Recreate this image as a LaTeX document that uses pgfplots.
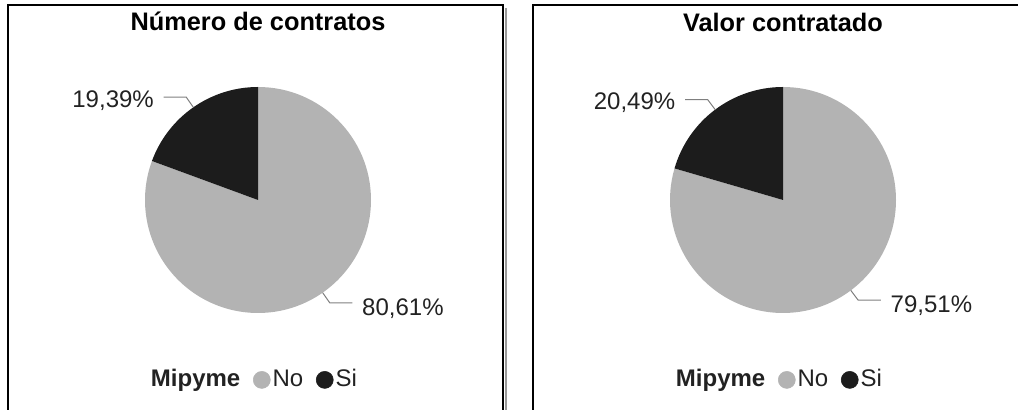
\documentclass[border=0pt]{standalone}
\usepackage{pgfplots}
\pgfplotsset{compat=1.18}
\usepackage{pgfplotstable}
\usepackage{fontspec}
\setmainfont{Liberation Sans}
\definecolor{pieGray}{HTML}{B3B3B3}
\definecolor{pieDark}{HTML}{1C1C1C}
\definecolor{leadGray}{HTML}{7F7F7F}
\definecolor{txt}{HTML}{222222}

\pgfplotstableread{
cat value
No 80.61
Si 19.39
}\contratos
\pgfplotstableread{
cat value
No 79.51
Si 20.49
}\valor

\pgfplotstablegetelem{0}{value}\of\contratos \let\noA\pgfplotsretval
\pgfplotstablegetelem{1}{value}\of\contratos \let\siA\pgfplotsretval
\pgfplotstablegetelem{0}{value}\of\valor \let\noB\pgfplotsretval
\pgfplotstablegetelem{1}{value}\of\valor \let\siB\pgfplotsretval

\pgfmathsetmacro\dNoA{-3.6*\noA}
\pgfmathsetmacro\dSiA{3.6*\siA}
\pgfmathsetmacro\mNoA{90-1.8*\noA}
\pgfmathsetmacro\mSiA{90+1.8*\siA}
\pgfmathsetmacro\dNoB{-3.6*\noB}
\pgfmathsetmacro\dSiB{3.6*\siB}
\pgfmathsetmacro\mNoB{90-1.8*\noB}
\pgfmathsetmacro\mSiB{90+1.8*\siB}

\def\R{84.75pt}
\def\pct#1{\pgfmathprintnumber[assume math mode=true,fixed,fixed zerofill,precision=2,use comma]{#1}\%}

\pgfplotsset{
  pieaxis/.style={
    anchor=center, hide axis, x=\R, y=\R,
    xmin=-1, xmax=1, ymin=-1, ymax=1, clip=false,
    legend columns=-1,
    legend style={draw=none, fill=none, at={(0.482,-0.296)}, anchor=center,
      inner sep=0pt,
      nodes={inner sep=1.5pt, text=txt},
      /tikz/every even column/.append style={column sep=8pt}},
    legend image code/.code={\fill[##1] (0pt,0pt) circle (6.4pt);},
  },
}

\begin{document}
\fontsize{18pt}{21pt}\selectfont
\begin{tikzpicture}
\useasboundingbox (0,0) rectangle (763.5pt,307.5pt);
\clip (0,0) rectangle (763.5pt,307.5pt);
\begin{scope}[x=0.75pt, y=-0.75pt, shift={(0,307.5pt)}]
  \draw[line width=1.5pt] (8,430) -- (8,5.5) -- (503,5.5) -- (503,430);
  \draw[line width=1.5pt, black!40] (505.5,8) -- (505.5,430);
  \draw[line width=1.5pt] (533,430) -- (533,5.5) -- (1040,5.5);
  \node[anchor=base, font=\fontsize{19pt}{22pt}\selectfont\bfseries, inner sep=0pt] at (258,31) {Número de contratos};
  \node[anchor=base, font=\fontsize{19pt}{22pt}\selectfont\bfseries, inner sep=0pt] at (783,32) {Valor contratado};
\end{scope}

% Left pie
\begin{axis}[pieaxis, at={(193.5pt,157.5pt)}]
  \fill[pieGray] (axis cs:0,0) -- (axis cs:0,1) arc[start angle=90, delta angle=\dNoA, radius=\R] -- cycle;
  \fill[pieDark] (axis cs:0,0) -- (axis cs:0,1) arc[start angle=90, delta angle=\dSiA, radius=\R] -- cycle;
  \draw[leadGray, line width=0.75pt] ([shift={(\mSiA:\R)}]axis cs:0,0) -- ([shift={(\mSiA:94pt)}]axis cs:0,0) -- ++(-17pt,0pt)
     node[anchor=base east, inner sep=0pt, xshift=-7pt, yshift=-7.5pt, text=txt] {\pct{\siA}};
  \draw[leadGray, line width=0.75pt] ([shift={(\mNoA:\R)}]axis cs:0,0) -- ([shift={(\mNoA:94pt)}]axis cs:0,0) -- ++(17pt,0pt)
     node[anchor=base west, inner sep=0pt, xshift=7pt, yshift=-9.5pt, text=txt] {\pct{\noA}};
  \addlegendimage{empty legend}
  \addlegendentry{\textbf{Mipyme}\hspace{7.5pt}}
  \addlegendimage{pieGray}
  \addlegendentry{No}
  \addlegendimage{pieDark}
  \addlegendentry{Si}
\end{axis}

% Right pie
\begin{axis}[pieaxis, at={(587.25pt,157.5pt)}]
  \fill[pieGray] (axis cs:0,0) -- (axis cs:0,1) arc[start angle=90, delta angle=\dNoB, radius=\R] -- cycle;
  \fill[pieDark] (axis cs:0,0) -- (axis cs:0,1) arc[start angle=90, delta angle=\dSiB, radius=\R] -- cycle;
  \draw[leadGray, line width=0.75pt] ([shift={(\mSiB:\R)}]axis cs:0,0) -- ([shift={(\mSiB:94pt)}]axis cs:0,0) -- ++(-17pt,0pt)
     node[anchor=base east, inner sep=0pt, xshift=-7pt, yshift=-7.5pt, text=txt] {\pct{\siB}};
  \draw[leadGray, line width=0.75pt] ([shift={(\mNoB:\R)}]axis cs:0,0) -- ([shift={(\mNoB:94pt)}]axis cs:0,0) -- ++(17pt,0pt)
     node[anchor=base west, inner sep=0pt, xshift=7pt, yshift=-9.5pt, text=txt] {\pct{\noB}};
  \addlegendimage{empty legend}
  \addlegendentry{\textbf{Mipyme}\hspace{7.5pt}}
  \addlegendimage{pieGray}
  \addlegendentry{No}
  \addlegendimage{pieDark}
  \addlegendentry{Si}
\end{axis}
\end{tikzpicture}
\end{document}
